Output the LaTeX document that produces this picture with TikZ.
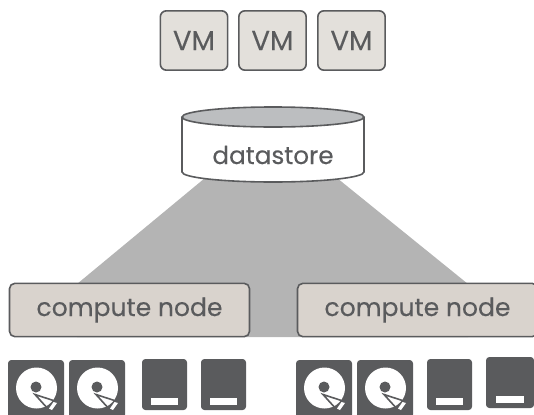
\documentclass[tikz,border=0pt]{standalone}
\usepackage{fontspec}
\setmainfont[FakeBold=0.25]{Poppins}
\definecolor{ink}{HTML}{5A5B5D}
\definecolor{vmfill}{HTML}{E3E0DB}
\definecolor{cnfill}{HTML}{D9D3CD}
\definecolor{greyband}{HTML}{B4B4B4}
\definecolor{lid}{HTML}{BCBEC0}
\tikzset{
  x=0.75pt,y=-0.75pt,
  vmbox/.style={draw=ink,line width=1.2pt,fill=vmfill,rounded corners=4.5pt,minimum width=50.5pt,minimum height=44.5pt,inner sep=0pt,text=ink,font=\fontsize{20.5}{22}\selectfont},
  cnbox/.style={draw=ink,line width=1.2pt,fill=cnfill,rounded corners=4pt,minimum height=40pt,inner sep=0pt,text=ink,font=\fontsize{18.8}{22}\selectfont},
  darkbox/.style={fill=ink,rounded corners=2.5pt},
}
\newcommand{\discicon}[2]{%
  \begin{scope}[shift={(#1,#2)}]
    \fill[darkbox] (0,0) rectangle (56,58);
    \fill[white] (28.5,28) circle[radius=20.5*0.75pt];
    \fill[ink] (28,27) circle[radius=5.5*0.75pt];
    \draw[ink,line width=1.2pt,line join=miter] (47,41) -- (27,34.5) -- (41,50);
    \fill[white] (45.5,42) -- (41,48.5) -- (44,50) -- (49,43) -- cycle;
  \end{scope}}
\newcommand{\driveicon}[2]{%
  \begin{scope}[shift={(#1,#2)}]
    \fill[darkbox] (0,0) rectangle (45,51);
    \fill[white] (9,39) rectangle (36,46);
  \end{scope}}
\begin{document}
\begin{tikzpicture}
\useasboundingbox (0,0) rectangle (534,414);
\fill[greyband] (205,178) -- (337,178) -- (468,284) -- (468,337) -- (77,337) -- (77,284) -- cycle;
\node[vmbox] (vm1) at (194,40.5) {VM};
\node[vmbox] (vm2) at (272.5,40.5) {VM};
\node[vmbox] (vm3) at (351.5,40.5) {VM};
\draw[ink,line width=1.2pt,fill=white] (182,117) -- (182,172) arc[start angle=180,end angle=0,x radius=91,y radius=10] -- (364,117);
\draw[ink,line width=1.2pt,fill=lid] (273,117) ellipse[x radius=91,y radius=10];
\node[text=ink,font=\fontsize{18.5}{22}\selectfont,inner sep=0pt] (ds) at (273,155) {datastore};
\node[cnbox,minimum width=180pt] (cn1) at (129.5,310) {compute node};
\begin{scope}
\clip (0,0) rectangle (534,414);
\node[cnbox,minimum width=180pt] (cn2) at (417.5,310) {compute node};
\discicon{8}{360}\discicon{69}{360}
\driveicon{142}{359}\driveicon{201}{359}
\discicon{296}{360}\discicon{357}{360}
\driveicon{427}{359}
\begin{scope}[shift={(486,357)}]
  \fill[darkbox] (0,0) rectangle (48,51);
  \fill[white] (10,39) rectangle (38,46);
\end{scope}
\end{scope}
\end{tikzpicture}
\end{document}
